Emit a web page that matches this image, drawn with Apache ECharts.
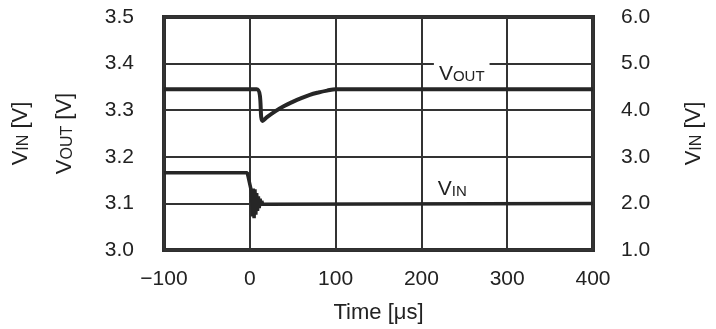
<!DOCTYPE html>
<html>
<head>
<meta charset="utf-8">
<script src="https://cdn.jsdelivr.net/npm/echarts@6/dist/echarts.min.js"></script>
<style>
  html, body { margin: 0; padding: 0; background: #fff; }
  #main { width: 716px; height: 329px; }
</style>
</head>
<body>
<div id="main"></div>
<script>
// time axis ticks (us)
var xTicks = [-100, 0, 100, 200, 300, 400];
var voutTicks = [3.0, 3.1, 3.2, 3.3, 3.4, 3.5];
var vinTicks = [1.0, 2.0, 3.0, 4.0, 5.0, 6.0];

// VOUT trace [time, V]
var voutTime = [-100, 8, 15, 20, 30, 40, 50, 60, 70, 80, 90, 100, 400];
var voutVal  = [3.345, 3.345, 3.277, 3.285, 3.298, 3.309, 3.318, 3.326, 3.333, 3.338, 3.342, 3.345, 3.345];

// VIN trace with ringing after the step
var vinTime = [-100, -3, 2, 3, 4, 5, 6, 7, 8, 9, 10, 11, 12, 13, 14, 15, 17, 400];
var vinVal  = [2.66, 2.66, 2.25, 1.72, 2.32, 1.68, 2.3, 1.76, 2.22, 1.84, 2.15, 1.9, 2.1, 1.95, 2.05, 1.98, 2.0, 2.0];

var lineColor = '#262626';
var font = 'Liberation Sans, Arial, sans-serif';

function pairs(t, v) {
  var out = [];
  for (var i = 0; i < t.length; i++) out.push([t[i], v[i]]);
  return out;
}

var subRich = {
  v: { fontSize: 22, fontFamily: font, color: '#222', verticalAlign: 'bottom', lineHeight: 24 },
  s: { fontSize: 16, fontFamily: font, color: '#222', verticalAlign: 'bottom', lineHeight: 22 },
  t: { fontSize: 22, fontFamily: font, color: '#222', verticalAlign: 'bottom', lineHeight: 24 }
};
var labRich = {
  v: { fontSize: 21, fontFamily: font, color: '#222', verticalAlign: 'bottom', lineHeight: 23 },
  s: { fontSize: 15, fontFamily: font, color: '#222', verticalAlign: 'bottom', lineHeight: 21 }
};

var tickLabel = { fontSize: 21, fontFamily: font, color: '#222' };

var myChart = echarts.init(document.getElementById('main'));
var option = {
  animation: false,
  grid: {
    left: 164, right: 123, top: 17, bottom: 78,
    show: true, borderColor: '#2e2e2e', borderWidth: 4
  },
  xAxis: {
    type: 'value',
    min: xTicks[0], max: xTicks[xTicks.length - 1], interval: 100,
    name: 'Time [\u03bcs]',
    nameLocation: 'middle', nameGap: 52,
    nameTextStyle: { fontSize: 22, fontFamily: font, color: '#222' },
    axisLine: { show: false },
    axisTick: { show: false },
    axisLabel: {
      fontSize: 21, fontFamily: font, color: '#222', margin: 19,
      formatter: function (v) { return String(v).replace('-', '\u2212'); }
    },
    splitLine: { lineStyle: { color: '#333', width: 2 } }
  },
  yAxis: [
    {
      type: 'value', position: 'left',
      min: voutTicks[0], max: voutTicks[voutTicks.length - 1], interval: 0.1,
      name: '{v|V}{s|OUT}{t| [V]}',
      nameLocation: 'middle', nameGap: 88, nameRotate: 90,
      nameTextStyle: { rich: subRich },
      axisLine: { show: false },
      axisTick: { show: false },
      axisLabel: {
        fontSize: tickLabel.fontSize, fontFamily: font, color: '#222', margin: 30,
        formatter: function (v) { return v.toFixed(1); }
      },
      splitLine: { lineStyle: { color: '#333', width: 2 } }
    },
    {
      type: 'value', position: 'right',
      min: vinTicks[0], max: vinTicks[vinTicks.length - 1], interval: 1,
      name: '{v|V}{s|IN}{t| [V]}',
      nameLocation: 'middle', nameGap: 88, nameRotate: 90,
      nameTextStyle: { rich: subRich },
      axisLine: { show: false },
      axisTick: { show: false },
      axisLabel: {
        fontSize: tickLabel.fontSize, fontFamily: font, color: '#222', margin: 28,
        formatter: function (v) { return v.toFixed(1); }
      },
      splitLine: { show: false }
    },
    {
      // outer left axis title only
      type: 'value', position: 'left', offset: 0,
      min: 0, max: 1,
      name: '{v|V}{s|IN}{t| [V]}',
      nameLocation: 'middle', nameGap: 132, nameRotate: 90,
      nameTextStyle: { rich: subRich },
      axisLine: { show: false },
      axisTick: { show: false },
      axisLabel: { show: false },
      splitLine: { show: false }
    }
  ],
  series: [
    {
      name: 'VOUT', type: 'line', yAxisIndex: 0,
      data: pairs(voutTime, voutVal),
      smooth: 0.4,
      showSymbol: false,
      lineStyle: { color: lineColor, width: 4 },
      markPoint: {
        symbol: 'rect', symbolSize: 0,
        data: [{ coord: [247, 3.382] }],
        label: {
          show: true, position: 'inside',
          backgroundColor: '#fff', padding: [2, 5, 0, 5],
          formatter: '{v|V}{s|OUT}',
          rich: labRich
        }
      }
    },
    {
      name: 'VIN', type: 'line', yAxisIndex: 1,
      data: pairs(vinTime, vinVal),
      showSymbol: false,
      lineStyle: { color: lineColor, width: 3.5 },
      markPoint: {
        symbol: 'rect', symbolSize: 0,
        data: [{ coord: [236, 2.33] }],
        label: {
          show: true, position: 'inside',
          formatter: '{v|V}{s|IN}',
          rich: labRich
        }
      }
    }
  ]
};
myChart.setOption(option);
</script>
</body>
</html>
